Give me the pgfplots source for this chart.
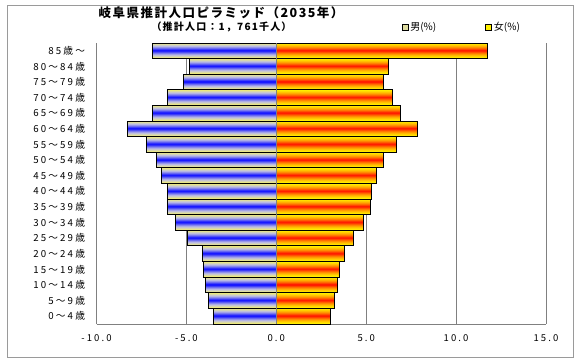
\documentclass[border=0pt]{standalone}
\usepackage{fontspec}
\setmainfont{Noto Sans CJK JP}
\newfontfamily\jpls[LetterSpace=22]{Noto Sans CJK JP}
\newfontfamily\jpt[LetterSpace=12]{Noto Sans CJK JP}
\usepackage{pgfplots}
\usepackage{pgfplotstable}
\pgfplotsset{compat=1.18}
\definecolor{gridgray}{RGB}{128,128,128}
\definecolor{m0}{RGB}{238,234,120}
\definecolor{m1}{RGB}{222,220,160}
\definecolor{m2}{RGB}{205,205,200}
\definecolor{m3}{RGB}{185,185,228}
\definecolor{m4}{RGB}{150,150,235}
\definecolor{m5}{RGB}{110,110,242}
\definecolor{m6}{RGB}{65,65,248}
\definecolor{m7}{RGB}{25,25,255}
\definecolor{f0}{RGB}{255,240,0}
\definecolor{f1}{RGB}{255,222,0}
\definecolor{f2}{RGB}{255,200,0}
\definecolor{f3}{RGB}{255,175,0}
\definecolor{f4}{RGB}{255,145,0}
\definecolor{f5}{RGB}{255,110,0}
\definecolor{f6}{RGB}{255,70,0}
\definecolor{f7}{RGB}{255,30,0}
\pgfplotstableread{
i m f
0 -3.52 3.00
1 -3.77 3.22
2 -3.94 3.39
3 -4.05 3.50
4 -4.10 3.78
5 -4.94 4.30
6 -5.63 4.85
7 -6.07 5.22
8 -6.05 5.28
9 -6.40 5.56
10 -6.66 5.94
11 -7.24 6.67
12 -8.29 7.83
13 -6.88 6.89
14 -6.05 6.44
15 -5.16 5.94
16 -4.85 6.22
17 -6.90 11.72
}\pyr
\begin{document}
\begin{tikzpicture}[x=1pt,y=1pt]
\path[use as bounding box] (0,0) rectangle (580,360);
\draw[gridgray!80, line width=1pt] (7,3) rectangle (573,355);
\node[font=\jpt\fontsize{12.5}{14}\bfseries\selectfont] at (221,347) {岐阜県推計人口ピラミッド（2035年）};
\node[font=\jpt\fontsize{10}{12}\bfseries\selectfont] at (221.5,333) {（推計人口：1，761千人）};
\begin{axis}[
  at={(96.5pt,36pt)}, anchor=south west,
  scale only axis, width=449.5pt, height=281pt,
  xmin=-10, xmax=15, ymin=-0.5, ymax=17.5,
  axis x line*=bottom, axis y line*=left,
  axis line style={gridgray, line width=1pt},
  xmajorgrids, major grid style={gridgray, line width=1pt},
  major tick length=0pt,
  xtick={-10,-5,0,5,10,15},
  ytick={0,...,17},
  yticklabels={0～4歳,5～9歳,10～14歳,15～19歳,20～24歳,25～29歳,30～34歳,35～39歳,40～44歳,45～49歳,50～54歳,55～59歳,60～64歳,65～69歳,70～74歳,75～79歳,80～84歳,85歳～},
  /pgf/number format/assume math mode=true,
  /pgf/number format/fixed, /pgf/number format/fixed zerofill, /pgf/number format/precision=1,
  x tick label style={font=\jpls\fontsize{9.5}{11}\selectfont, yshift=-7pt},
  y tick label style={font=\jpls\fontsize{9.7}{11}\selectfont, xshift=-8pt},
  legend columns=2,
  legend style={draw=none, fill=none, at={(0.672,1.055)}, anchor=west,
    font=\fontsize{10}{12}\selectfont, column sep=0pt,
    /tikz/every even column/.append style={column sep=47pt}},
  lay/.style={xbar, bar shift=0pt, draw=none, forget plot},
]
% male gradient layers
\addplot[lay, bar width=15.6pt, fill=m0] table[x=m,y=i]{\pyr};
\addplot[lay, bar width=13.6pt, fill=m1] table[x=m,y=i]{\pyr};
\addplot[lay, bar width=11.6pt, fill=m2] table[x=m,y=i]{\pyr};
\addplot[lay, bar width=9.6pt, fill=m3] table[x=m,y=i]{\pyr};
\addplot[lay, bar width=7.6pt, fill=m4] table[x=m,y=i]{\pyr};
\addplot[lay, bar width=5.6pt, fill=m5] table[x=m,y=i]{\pyr};
\addplot[lay, bar width=3.6pt, fill=m6] table[x=m,y=i]{\pyr};
\addplot[lay, bar width=1.6pt, fill=m7] table[x=m,y=i]{\pyr};
% female gradient layers
\addplot[lay, bar width=15.6pt, fill=f0] table[x=f,y=i]{\pyr};
\addplot[lay, bar width=13.6pt, fill=f1] table[x=f,y=i]{\pyr};
\addplot[lay, bar width=11.6pt, fill=f2] table[x=f,y=i]{\pyr};
\addplot[lay, bar width=9.6pt, fill=f3] table[x=f,y=i]{\pyr};
\addplot[lay, bar width=7.6pt, fill=f4] table[x=f,y=i]{\pyr};
\addplot[lay, bar width=5.6pt, fill=f5] table[x=f,y=i]{\pyr};
\addplot[lay, bar width=3.6pt, fill=f6] table[x=f,y=i]{\pyr};
\addplot[lay, bar width=1.6pt, fill=f7] table[x=f,y=i]{\pyr};
% outlines
\addplot[lay, bar width=15.6pt, fill=none, draw=black, line width=1pt] table[x=m,y=i]{\pyr};
\addplot[lay, bar width=15.6pt, fill=none, draw=black, line width=1pt] table[x=f,y=i]{\pyr};
\draw[gridgray, line width=1pt] (axis cs:0,-0.5) -- (axis cs:0,17.5);
\addlegendimage{legend image code/.code={\path[draw=black, line width=0.6pt, top color=m1, middle color=m7, bottom color=m1] (0pt,-3pt) rectangle (6pt,3pt);}}
\addlegendentry{男(\%)}
\addlegendimage{legend image code/.code={\path[draw=black, line width=0.6pt, top color=f0, middle color=f7, bottom color=f0] (0pt,-3pt) rectangle (6pt,3pt);}}
\addlegendentry{女(\%)}
\end{axis}
\end{tikzpicture}
\end{document}
